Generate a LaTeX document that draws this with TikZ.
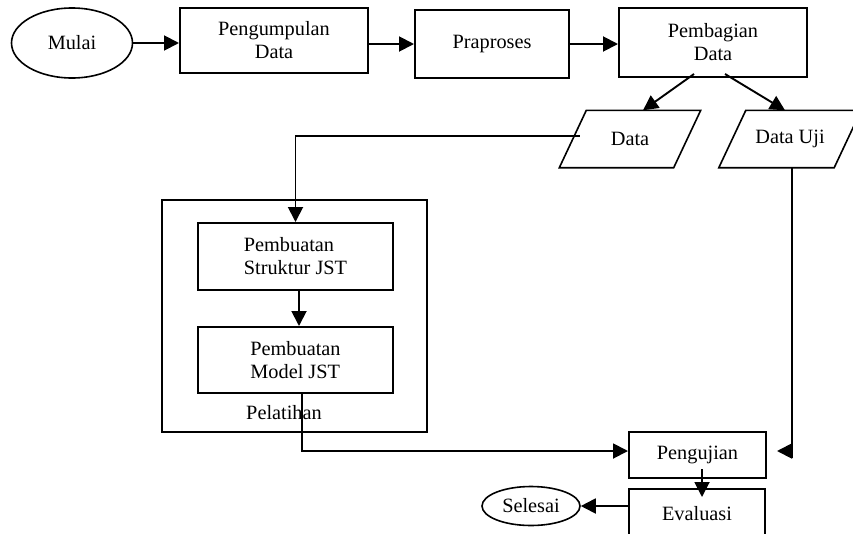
\documentclass[tikz,border=0pt]{standalone}
\usepackage{fontspec}
\setmainfont{Liberation Serif}
\usetikzlibrary{arrows.meta,shapes.geometric}
\begin{document}
\begin{tikzpicture}[x=1pt,y=-1pt,
  txt/.style={font=\fontsize{20.3}{23}\selectfont},
  proc/.style={txt,draw,line width=2pt,inner sep=0pt,align=center},
  term/.style={txt,ellipse,draw,line width=1.6pt,inner sep=0pt},
  io/.style={txt,inner sep=0pt,minimum height=57pt},
  para/.style={line width=1.6pt},
  line/.style={line width=1.9pt},
  conn/.style={line width=1.9pt,-{Triangle[length=15pt,width=15pt]}}]
\useasboundingbox (0,0) rectangle (853,533);
\clip (0,0) rectangle (853,533);
% top row
\node[term,minimum width=121pt,minimum height=70pt] (mulai) at (72,43) {Mulai};
\node[proc,minimum width=188pt,minimum height=65pt] (kumpul) at (274,40.5) {Pengumpulan\\Data};
\node[proc,minimum width=154pt,minimum height=68pt] (pra) at (492,44) {Praproses};
\node[proc,minimum width=188pt,minimum height=69pt] (bagi) at (713,42.5) {Pembagian\\Data};
% data
\node[io,minimum width=114pt] (dlatih) at (630,139) {Data};
\node[io,minimum width=115pt] (duji) at (790,139) {Data Uji};
\foreach \n in {dlatih,duji}{
  \draw[para] ([xshift=13.5pt]\n.north west) -- ([xshift=13.5pt]\n.north east)
    -- ([xshift=-13.5pt]\n.south east) -- ([xshift=-13.5pt]\n.south west) -- cycle;
}
% training block
\node[draw,line width=1.8pt,minimum width=265pt,minimum height=232pt,inner sep=0pt] (latih) at (294.5,316) {};
\node[proc,minimum width=195pt,minimum height=67pt,align=left] (struk) at (295.5,256.5) {Pembuatan\\Struktur JST};
\node[proc,minimum width=195pt,minimum height=66pt,align=left] (model) at (295.5,360) {Pembuatan\\Model JST};
\node[txt,inner sep=0pt] (lbl) at (284,413) {Pelatihan};
% testing
\node[proc,minimum width=137pt,minimum height=46pt] (uji) at (697.5,455) {Pengujian};
\node[proc,minimum width=136pt,minimum height=50pt] (eval) at (697,514) {Evaluasi};
\node[term,minimum width=98pt,minimum height=39pt] (selesai) at (531,506) {Selesai};
% connectors
\draw[conn] (mulai.east) -- ([yshift=-2.5pt]kumpul.west);
\draw[conn] ([yshift=-3.5pt]kumpul.east) -- (pra.west);
\draw[conn] (pra.east) -- ([yshift=-1.5pt]bagi.west);
\draw[conn] ([xshift=-19pt,yshift=4pt]bagi.south) -- ([xshift=13pt]dlatih.north);
\draw[conn] ([xshift=12pt,yshift=4pt]bagi.south) -- ([xshift=-5pt]duji.north);
\draw[conn] ([xshift=7pt,yshift=3pt]dlatih.west) -| (struk.north);
\draw[conn] ([xshift=3.5pt]struk.south) -- ([xshift=3.5pt]model.north);
\draw[conn] ([xshift=6.5pt]model.south) |- ([yshift=4pt]uji.west);
\coordinate (dubend) at (792,458);
\coordinate (dutip) at (777,451);
\draw[line] ([xshift=2pt]duji.south) -- (dubend);
\draw[conn] (dubend |- dutip) -- (dutip);
\draw[conn] ([xshift=4.5pt,yshift=10pt]uji.south) -- ([xshift=5pt,yshift=-9pt]eval.north);
\draw[conn] ([yshift=8pt]eval.west) -- (selesai.east);
\end{tikzpicture}
\end{document}
